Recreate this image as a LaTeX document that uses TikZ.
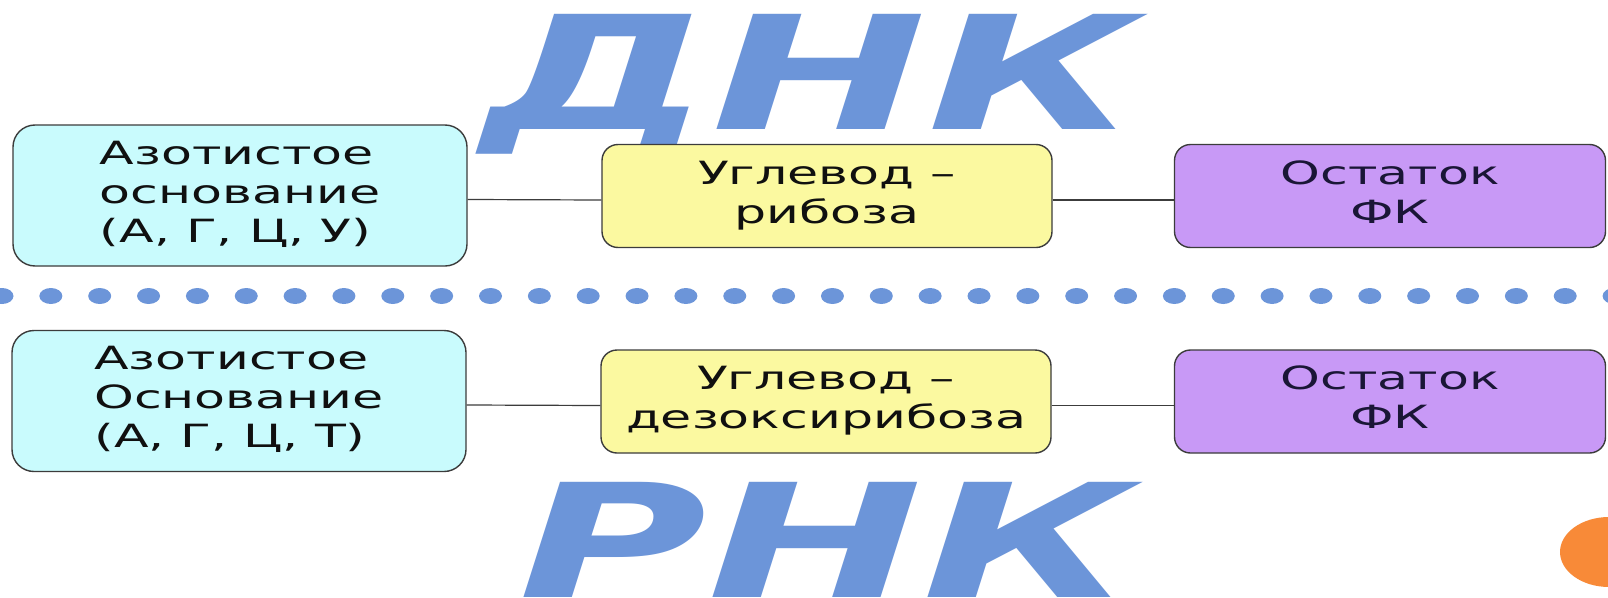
\documentclass[tikz,border=0pt]{standalone}
\usepackage{fontspec}
\usepackage{graphicx}
\setmainfont{DejaVu Sans}

\definecolor{dotblue}{HTML}{6C95D9}
\definecolor{cyanfill}{HTML}{C9FBFD}
\definecolor{yellowfill}{HTML}{FBF9A0}
\definecolor{violetfill}{HTML}{C899F6}
\definecolor{edgegray}{HTML}{3C3C3C}
\definecolor{inkdark}{HTML}{101010}
\definecolor{inknavy}{HTML}{1A1636}
\definecolor{orangespot}{HTML}{F88A38}

% text of a box, widened horizontally: centred lines / left-aligned lines
\newcommand{\boxtext}[1]{\scalebox{1.58}[1]{\begin{tabular}{@{}c@{}}#1\end{tabular}}}
\newcommand{\boxtextl}[1]{\scalebox{1.58}[1]{\begin{tabular}{@{}l@{}}#1\end{tabular}}}
\newcommand{\bigword}[1]{\scalebox{1.63}[1]{#1}}

\tikzset{
  unitbox/.style={draw=edgegray, line width=1.4pt, inner sep=0pt, text=inkdark,
    font=\fontsize{32}{39}\selectfont},
  basebox/.style={unitbox, fill=cyanfill, rounded corners=22pt,
    minimum width=454pt, minimum height=141pt},
  sugarbox/.style={unitbox, fill=yellowfill, rounded corners=16pt,
    minimum width=450pt, minimum height=103pt},
  acidbox/.style={unitbox, fill=violetfill, rounded corners=16pt, text=inknavy,
    minimum width=431pt, minimum height=103pt},
  link/.style={draw=edgegray, line width=1.2pt},
  bigtext/.style={text=dotblue, inner sep=0pt,
    font=\fontsize{158}{160}\selectfont\bfseries\itshape},
}

\begin{document}
\begin{tikzpicture}[x=1pt, y=-1pt]
  \useasboundingbox (0,0) rectangle (1608,597);
  \clip (0,0) rectangle (1608,597);
  \fill[white] (0,0) rectangle (1608,597);

  % large titles
  \node[bigtext, anchor=base] (dnk) at (810,129) {\bigword{ДНК}};
  \node[bigtext, anchor=base] (rnk) at (826,597) {\bigword{РНК}};

  % dotted separator
  \foreach \k in {0,...,33}
    \fill[dotblue] ({2+48.85*\k},296) ellipse [x radius=11.5pt, y radius=8pt];

  % orange spot in the corner
  \fill[orangespot] (1609,552) ellipse [x radius=49pt, y radius=35pt];

  % upper chain
  \node[basebox]  (a1) at (240,195.5) {\boxtextl{Азотистое\\основание\\(А, Г, Ц, У)}};
  \node[sugarbox] (b1) at (827,196)   {\boxtext{Углевод –\\рибоза}};
  \node[acidbox]  (c1) at (1390,196)  {\boxtext{Остаток\\ФК}};

  % lower chain
  \node[basebox]  (a2) at (239,401)   {\boxtextl{Азотистое\\Основание\\(А, Г, Ц, Т)}};
  \node[sugarbox] (b2) at (826,401.5) {\boxtext{Углевод –\\дезоксирибоза}};
  \node[acidbox]  (c2) at (1390,401.5){\boxtext{Остаток\\ФК}};

  % bonds
  \draw[link] ([yshift=-4pt]a1.east) -- ([yshift=-4pt]b1.west);
  \draw[link] ([yshift=-4pt]b1.east) -- ([yshift=-4pt]c1.west);
  \draw[link] ([yshift=-4pt]a2.east) -- ([yshift=-4pt]b2.west);
  \draw[link] ([yshift=-4pt]b2.east) -- ([yshift=-4pt]c2.west);
\end{tikzpicture}
\end{document}
